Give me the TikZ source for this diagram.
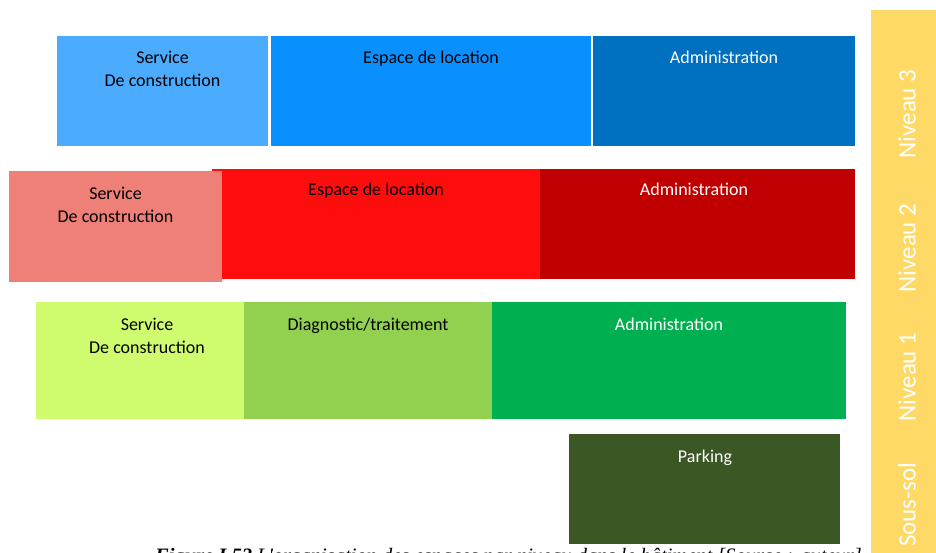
\documentclass[tikz,border=0pt]{standalone}
\usepackage{fontspec}
\setmainfont{Carlito}
\newfontfamily\capfont{Liberation Serif}
\definecolor{blueA}{HTML}{4BACFF}
\definecolor{blueB}{HTML}{0A8FFF}
\definecolor{blueC}{HTML}{0070C0}
\definecolor{redA}{HTML}{EE8077}
\definecolor{redB}{HTML}{FF0D0D}
\definecolor{redC}{HTML}{C00000}
\definecolor{greenA}{HTML}{CFFB6E}
\definecolor{greenB}{HTML}{92D050}
\definecolor{greenC}{HTML}{00B050}
\definecolor{parkc}{HTML}{3A5724}
\definecolor{barc}{HTML}{FFD966}
\tikzset{
  lbl/.style={font=\fontsize{18}{23}\selectfont, align=center, anchor=base, inner sep=0pt, text=black},
  lblw/.style={lbl, text=white},
  lvl/.style={font=\fontsize{25}{30}\selectfont, text=white, rotate=90, inner sep=0pt, anchor=center}
}
\begin{document}
\begin{tikzpicture}[x=1pt,y=-1pt]
\useasboundingbox (0,0) rectangle (936,553);
% caption (cut off by the page edge, as in the source)
\node[anchor=base west, inner sep=0pt, font=\capfont\fontsize{20.5}{24}\selectfont\itshape] (cap) at (155,562)
  {\textbf{Figure I.52} L'organisation des espaces par niveau dans le bâtiment [Source : auteur]};
% Niveau 3
\fill[blueA] (57,36) rectangle (268,146);
\fill[blueB] (271,36) rectangle (591,146);
\fill[blueC] (593,36) rectangle (855,146);
\node[lbl] (s3) at (162.5,87) {Service\\De construction};
\node[lbl] (e3) at (431,64) {Espace de location};
\node[lblw] (a3) at (724,64) {Administration};
% Niveau 2
\fill[redB] (212,169) rectangle (540,279);
\fill[redC] (540,169) rectangle (855,279);
\fill[redA] (9,171) rectangle (222,282);
\node[lbl] (s2) at (115.5,222.5) {Service\\De construction};
\node[lbl] (e2) at (376,196) {Espace de location};
\node[lblw] (a2) at (694,196) {Administration};
% Niveau 1
\fill[greenA] (36,302) rectangle (244,419);
\fill[greenB] (244,302) rectangle (492,419);
\fill[greenC] (492,302) rectangle (846,419);
\node[lbl] (s1) at (147,353) {Service\\De construction};
\node[lbl] (d1) at (368,330) {Diagnostic/traitement};
\node[lblw] (a1) at (669,330) {Administration};
% Sous-sol
\fill[parkc] (569,434) rectangle (840,544);
\node[lblw] (p0) at (705,462) {Parking};
% level bar
\fill[barc] (871,10) rectangle (936,553);
\node[lvl] (n3) at (907,114) {Niveau 3};
\node[lvl] (n2) at (907,248) {Niveau 2};
\node[lvl] (n1) at (907,377) {Niveau 1};
\node[lvl] (n0) at (907,505) {Sous-sol};
\end{tikzpicture}
\end{document}
